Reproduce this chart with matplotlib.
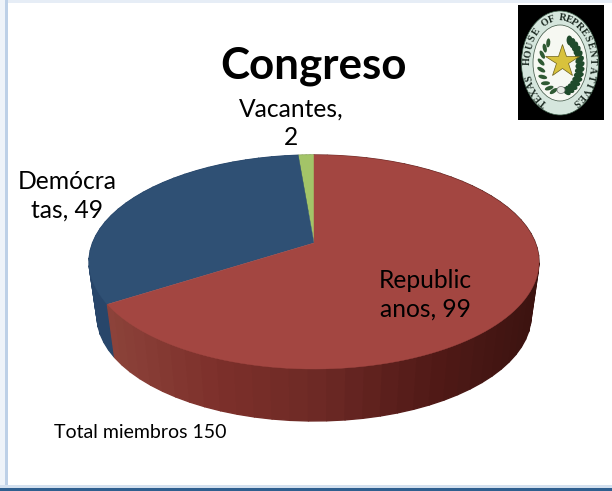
#!/usr/bin/env python3
import numpy as np
import matplotlib
matplotlib.use('Agg')
import matplotlib.pyplot as plt
from matplotlib.colors import LinearSegmentedColormap
from matplotlib.patches import Ellipse, Polygon, Rectangle

# data, going counter-clockwise from 12 o'clock
categories = ['Vacantes', 'Demócratas', 'Republicanos']
values = [2, 49, 99]
labels = ['Vacantes,\n2', 'Demócra\ntas, 49', 'Republic\nanos, 99']
title = 'Congreso'
note = 'Total miembros 150'
seal_text = 'TEXAS HOUSE OF REPRESENTATIVES'

top_colors = ['#a3c468', '#2f5074', '#a34641']
side_colors = ['#7f9a4e', '#28466a', None]

FONT = 'Lato'

# 3D look: top ellipse, bottom ellipse, apex shift (projective view of a disc)
CX, CY, RX, RY = 314, 262, 225, 107
BOT_CY, BOT_RX, BOT_RY = 316, 217, 105
SHIFT = 0.178

red_side = LinearSegmentedColormap.from_list(
    'red_side', ['#8c433a', '#7d302b', '#6c2925', '#521a17', '#3c1310'])


def rim(theta):
    """theta in radians ccw from top -> disc point after the perspective shift"""
    u, v = -np.sin(theta), np.cos(theta)
    d = 1 + SHIFT * v
    return u * np.sqrt(1 - SHIFT ** 2) / d, (v + SHIFT) / d


def top_xy(theta):
    u, v = rim(theta)
    return CX + RX * u, CY - RY * v


def bot_xy(theta):
    u, v = rim(theta)
    return CX + BOT_RX * u, BOT_CY - BOT_RY * v


fig = plt.figure(figsize=(6.12, 4.91), dpi=100)
ax = fig.add_axes([0, 0, 1, 1])
ax.set_xlim(0, 612)
ax.set_ylim(491, 0)
ax.axis('off')

# slide frame
ax.add_patch(Rectangle((0, 0), 612, 491, fc='white', ec='none'))
ax.add_patch(Rectangle((0, 0), 612, 3, fc='#e6edf6', ec='none'))
ax.add_patch(Rectangle((0, 0), 5, 491, fc='#eef3f9', ec='none'))
ax.add_patch(Rectangle((5, 0), 3, 487, fc='#bdd0e7', ec='none'))
ax.add_patch(Rectangle((0, 485), 612, 3, fc='#d3e0ef', ec='none'))
ax.add_patch(Rectangle((0, 488), 612, 3, fc='#2f5f8f', ec='none'))

# slices
edges = np.cumsum([0] + values) / sum(values) * 2 * np.pi
for i in range(len(values)):
    n = max(int(values[i] * 0.6), 4)
    th = np.linspace(edges[i], edges[i + 1], n + 1)
    for a, b in zip(th[:-1], th[1:]):
        tx, ty = top_xy(np.array([a, b]))
        bx, by = bot_xy(np.array([a, b]))
        if side_colors[i] is None:
            c = red_side(np.clip((tx.mean() - 107) / 432, 0, 1))
        else:
            c = side_colors[i]
        ax.add_patch(Polygon([(tx[0], ty[0]), (tx[1], ty[1]), (bx[1], by[1]), (bx[0], by[0])],
                             fc=c, ec=c, lw=1.0, zorder=2))

apex = (CX, CY - RY * SHIFT)
for i in range(len(values)):
    th = np.linspace(edges[i], edges[i + 1], 120)
    x, y = top_xy(th)
    ax.add_patch(Polygon(np.vstack([[apex], np.column_stack([x, y])]),
                         fc=top_colors[i], ec=top_colors[i], lw=0.3, zorder=3))

# texts
ax.text(314, 66, title, fontsize=31.6, fontweight='bold', family=FONT, ha='center', va='center', zorder=5)
ax.text(291, 123, labels[0], fontsize=17.7, family=FONT, ha='center', va='center', linespacing=1.28, zorder=5)
ax.text(67, 196, labels[1], fontsize=17.7, family=FONT, ha='center', va='center', linespacing=1.28, zorder=5)
ax.text(425, 295, labels[2], fontsize=17.7, family=FONT, ha='center', va='center', linespacing=1.28, zorder=5)
ax.text(54, 433, note, fontsize=14, family=FONT, ha='left', va='center', zorder=5)

# seal
SX, SY = 560, 63
ax.add_patch(Rectangle((518, 5), 86, 115, fc='black', ec='none', zorder=6))
ax.add_patch(Ellipse((SX, SY), 77, 104, fc='#d5e6dd', ec='#3a5a46', lw=0.5, zorder=7))
ax.add_patch(Ellipse((SX, SY), 54, 76, fc='#f6f8f2', ec='#39503f', lw=0.5, zorder=7))

chars = list(seal_text)
angs = np.radians(np.linspace(-150, 150, len(chars)))
for ch, a in zip(chars, angs):
    x = SX + 32.5 * np.sin(a)
    y = SY - 45 * np.cos(a)
    rot = -np.degrees(np.arctan2(45 * np.sin(a), 32.5 * np.cos(a)))
    ax.text(x, y, ch, fontsize=7.2, fontweight='bold', family='Liberation Serif', color='#1c2a22',
            ha='center', va='center', rotation=rot, rotation_mode='anchor', zorder=8)

# wreath
for a in np.radians(np.linspace(-165, -35, 9)):
    ax.add_patch(Ellipse((SX - 2 + 17 * np.sin(a), SY + 2 - 27 * np.cos(a)), 4, 9,
                         angle=np.degrees(a) + 40, fc='#2f5a33', ec='none', zorder=8))
for a in np.radians(np.linspace(25, 165, 14)):
    ax.add_patch(Ellipse((SX + 2 + 18 * np.sin(a), SY + 2 - 27 * np.cos(a)), 6, 10,
                         angle=np.degrees(a) - 30, fc='#1f4a2b', ec='none', zorder=8))
ax.plot([SX + 2], [SY - 2], marker='*', ms=25, mfc='#d8c23c', mec='#6b5f18', mew=0.5, zorder=9)
ax.add_patch(Ellipse((SX + 1, SY + 27), 8, 7, fc='#e8ece6', ec='#777777', lw=0.5, zorder=9))

fig.savefig('out.png', dpi=100)
